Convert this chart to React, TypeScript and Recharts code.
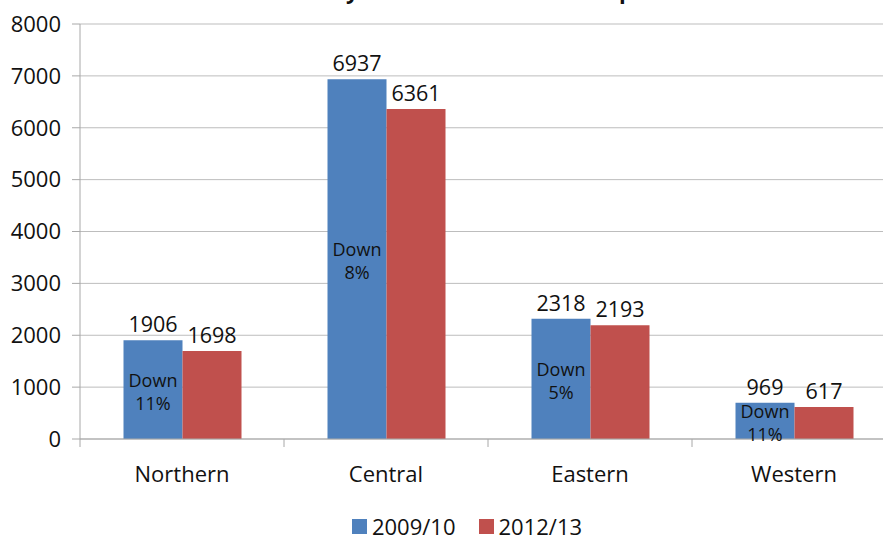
import React from 'react';
import { BarChart, Bar, XAxis, YAxis, CartesianGrid, Legend, LabelList } from 'recharts';

const regions = ['Northern', 'Central', 'Eastern', 'Western'];
const values0910 = [1906, 6937, 2318, 700];
const labels0910 = ['1906', '6937', '2318', '969'];
const values1213 = [1698, 6361, 2193, 617];
const downPct = ['11%', '8%', '5%', '11%'];
const yTicks = [0, 1000, 2000, 3000, 4000, 5000, 6000, 7000, 8000];

const COLORS = {
  y0910: '#4f81bd',
  y1213: '#c0504d',
  grid: '#bdbdbd',
  axis: '#a8a8a8',
};

const FONT = '"Open Sans", "Noto Sans", sans-serif';
const CHART_W = 896;
const CHART_H = 538;
const Y_W = 80;
const BAND = (CHART_W - Y_W) / regions.length;

const data = regions.map((name, i) => ({
  name,
  a: values0910[i],
  aLabel: labels0910[i],
  b: values1213[i],
  down: downPct[i],
}));

const CategoryTick = ({ x, y, payload }: any) => (
  <g>
    <line x1={x - BAND / 2} y1={y} x2={x - BAND / 2} y2={y + 8} stroke={COLORS.axis} />
    <text x={x} y={y + 34} textAnchor="middle" dominantBaseline="central" fontSize={22} fill="#111" fontFamily={FONT}>
      {payload.value}
    </text>
  </g>
);

const DownLabel = (props: any) => {
  const { x, y, width, height, index } = props;
  const cx = x + width / 2;
  const cy = y + height / 2 + 1.5;
  return (
    <text textAnchor="middle" fontSize={18} fill="#111" fontFamily={FONT}>
      <tspan x={cx} y={cy - 11.5} dominantBaseline="central">Down</tspan>
      <tspan x={cx} y={cy + 11.5} dominantBaseline="central">{downPct[index]}</tspan>
    </text>
  );
};

const LegendContent = () => (
  <div style={{ display: 'flex', justifyContent: 'center', paddingLeft: 38, height: 24, alignItems: 'center', fontFamily: FONT, fontSize: 22, color: '#111' }}>
    {[
      { label: '2009/10', color: COLORS.y0910 },
      { label: '2012/13', color: COLORS.y1213 },
    ].map((item, i) => (
      <span key={item.label} style={{ display: 'flex', alignItems: 'center', marginLeft: i ? 23 : 0 }}>
        <span style={{ width: 15, height: 15, background: item.color, marginRight: 5, display: 'inline-block' }} />
        {item.label}
      </span>
    ))}
  </div>
);

export default function App() {
  return (
    <div style={{ position: 'absolute', left: 0, top: 0, width: 883, height: CHART_H, overflow: 'hidden', background: '#fff' }}>
      <svg width={883} height={6} style={{ position: 'absolute', left: 0, top: 0 }}>
        <text x={346} y={-1} fontSize={22} fontWeight="bold" fontFamily={FONT} fill="#111">y</text>
        <text x={619} y={-1} fontSize={22} fontWeight="bold" fontFamily={FONT} fill="#111">p</text>
      </svg>
      <BarChart
        width={CHART_W}
        height={CHART_H}
        data={data}
        margin={{ top: 24, right: 0, left: 0, bottom: 0 }}
        barCategoryGap={43.5}
        barGap={0}
      >
        <CartesianGrid vertical={false} stroke={COLORS.grid} />
        <XAxis
          dataKey="name"
          height={75}
          axisLine={{ stroke: COLORS.axis }}
          tickLine={false}
          tickSize={0}
          tickMargin={0}
          tick={<CategoryTick />}
          interval={0}
        />
        <YAxis
          width={Y_W}
          domain={[0, 8000]}
          ticks={yTicks}
          interval={0}
          axisLine={{ stroke: COLORS.axis }}
          tickLine={{ stroke: COLORS.axis }}
          tickSize={8}
          tickMargin={11}
          tick={{ fontSize: 22, fill: '#111', fontFamily: FONT }}
        />
        <Legend verticalAlign="bottom" content={<LegendContent />} />
        <Bar dataKey="a" name="2009/10" fill={COLORS.y0910} isAnimationActive={false}>
          <LabelList dataKey="aLabel" position="top" offset={8} fontSize={21.5} fill="#111" fontFamily={FONT} />
          <LabelList dataKey="down" content={<DownLabel />} />
        </Bar>
        <Bar dataKey="b" name="2012/13" fill={COLORS.y1213} isAnimationActive={false}>
          <LabelList dataKey="b" position="top" offset={8} fontSize={21.5} fill="#111" fontFamily={FONT} />
        </Bar>
      </BarChart>
    </div>
  );
}
